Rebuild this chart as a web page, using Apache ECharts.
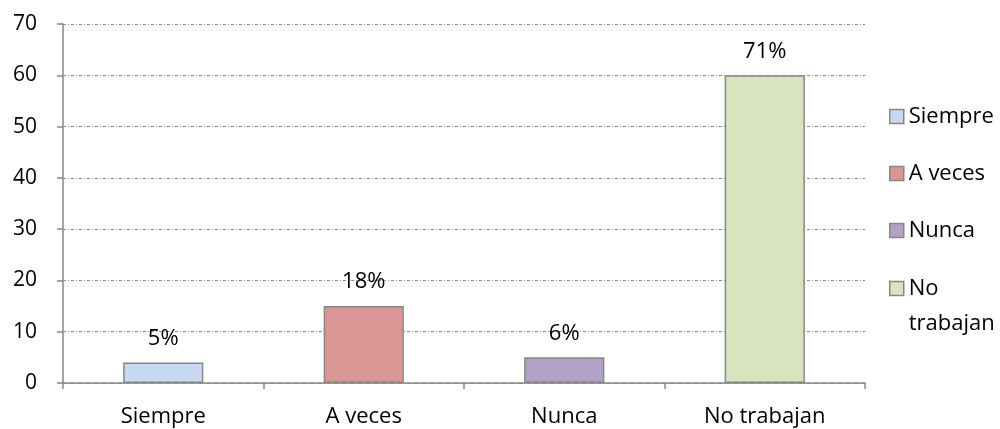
<!DOCTYPE html>
<html>
<head>
<meta charset="utf-8">
<script src="https://cdn.jsdelivr.net/npm/echarts@6/dist/echarts.min.js"></script>
<style>html,body{margin:0;padding:0;background:#fff}#c{width:1000px;height:429px}</style>
</head>
<body>
<div id="c"></div>
<script>
const categories = ['Siempre', 'A veces', 'Nunca', 'No trabajan'];
const values = [4, 15, 5, 60];
const percentLabels = ['5%', '18%', '6%', '71%'];
const colors = ['#c6d9f1', '#d99694', '#b3a2c7', '#d7e4bd'];
const yTicks = [0, 10, 20, 30, 40, 50, 60, 70];

const FONT = '"Open Sans"';
const series = categories.map((name, i) => ({
  name: name,
  type: 'bar',
  stack: 'all',
  barWidth: '40%',
  data: categories.map((c, j) => j === i ? values[i] : '-'),
  itemStyle: { color: colors[i], borderColor: '#878787', borderWidth: 1.5 },
  label: {
    show: true, position: 'top', distance: 13,
    formatter: () => percentLabels[i],
    fontFamily: FONT, fontSize: 22, color: '#000'
  }
}));

const legendCommon = {
  orient: 'vertical', left: 884,
  itemWidth: 14, itemHeight: 14, itemGap: 22,
  icon: 'rect',
  textStyle: { fontFamily: FONT, fontSize: 22, color: '#000', lineHeight: 35 },
  itemStyle: { borderColor: '#878787', borderWidth: 1.5 }
};

const chart = echarts.init(document.getElementById('c'), null, { renderer: 'canvas' });
chart.setOption({
  animation: false,
  grid: { left: 63, right: 135, top: 24, bottom: 46 },
  legend: [
    Object.assign({}, legendCommon, { top: 94, data: categories.slice(0, 3) }),
    Object.assign({}, legendCommon, {
      top: 231, data: categories.slice(3),
      formatter: n => ' \n' + n.replace(' ', '\n')
    })
  ],
  xAxis: {
    type: 'category', data: categories,
    axisLine: { lineStyle: { color: '#878787', width: 1.5 } },
    axisTick: { show: true, length: 6, lineStyle: { color: '#878787', width: 1.5 } },
    axisLabel: { fontFamily: FONT, fontSize: 22, color: '#000', margin: 23 }
  },
  yAxis: {
    type: 'value', min: yTicks[0], max: yTicks[yTicks.length - 1], interval: 10,
    axisLine: { show: true, lineStyle: { color: '#878787', width: 1.5 } },
    axisTick: { show: true, length: 6, lineStyle: { color: '#878787', width: 1.5 } },
    axisLabel: { fontFamily: FONT, fontSize: 21, color: '#000', margin: 26 },
    splitLine: { lineStyle: { color: '#8f8f73', width: 1, type: [3, 2, 1, 2] } }
  },
  series: series
});
</script>
</body>
</html>
